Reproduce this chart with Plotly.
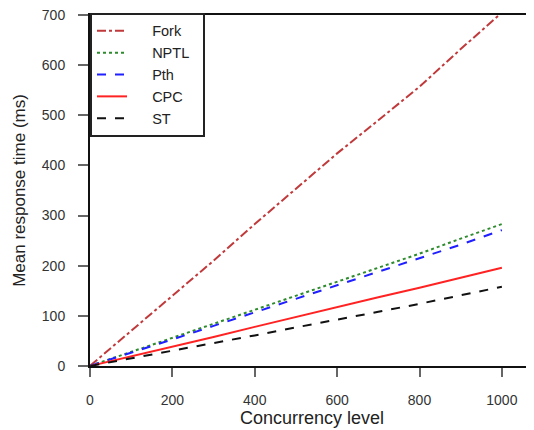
import plotly.graph_objects as go

concurrency = [1, 100, 200, 300, 400, 500, 600, 700, 800, 900, 1000]
fork = [1, 70, 140, 210, 283, 354, 424, 490, 557, 632, 705]
nptl = [0.5, 28, 56, 84, 112, 140, 168, 196, 224, 254, 283]
pth = [0.5, 26, 53, 80, 107, 134, 161, 188, 215, 242, 271]
cpc = [0.3, 19, 39, 58, 78, 98, 117, 137, 156, 176, 196]
st = [0.2, 15, 30, 46, 61, 77, 92, 108, 124, 141, 158]

series = [
    ("Fork", fork, "#c0393b", "dashdot"),
    ("NPTL", nptl, "#2e8b2e", "dot"),
    ("Pth", pth, "#1f1fff", "dash"),
    ("CPC", cpc, "#ff2222", "solid"),
    ("ST", st, "#111111", "dash"),
]

fig = go.Figure()
for name, vals, color, dash in series:
    fig.add_trace(go.Scatter(x=concurrency, y=vals, mode="lines",
                             name="\u00a0\u00a0\u00a0\u00a0\u00a0" + name + "\u00a0\u00a0",
                             line=dict(color=color, dash=dash, width=2)))

font = "Liberation Sans, Arial, sans-serif"
fig.update_layout(
    width=526, height=422,
    margin=dict(l=82, r=0, t=7, b=64, autoexpand=False),
    paper_bgcolor="white", plot_bgcolor="white",
    font=dict(family=font, color="#333333"),
    showlegend=True,
    legend=dict(x=0, y=1.006, xanchor="left", yanchor="top",
                bgcolor="white", bordercolor="#222222", borderwidth=2,
                font=dict(size=14.5, color="#222222"), tracegroupgap=0,
                itemwidth=30),
    xaxis=dict(range=[0, 1078], tickvals=[0, 200, 400, 600, 800, 1000],
               showgrid=False, zeroline=False, automargin=False,
               showline=True, linecolor="#111111", linewidth=2, mirror=True,
               ticks="outside", ticklen=9, tickcolor="#666666", tickwidth=1.5,
               ticklabelstandoff=11,
               tickfont=dict(size=14, color="#333333"),
               title=dict(text="Concurrency level", font=dict(size=18, color="#222222"), standoff=0)),
    yaxis=dict(range=[0, 700], tickvals=[0, 100, 200, 300, 400, 500, 600, 700],
               showgrid=False, zeroline=False, automargin=False,
               showline=True, linecolor="#111111", linewidth=2,
               ticks="outside", ticklen=10, tickcolor="#666666", tickwidth=1.5,
               ticklabelstandoff=10, ticklabeloverflow="allow",
               tickfont=dict(size=14, color="#333333"),
               title=dict(text="Mean response time (ms)", font=dict(size=17, color="#222222"), standoff=12)),
)

fig.write_html("out.html")
